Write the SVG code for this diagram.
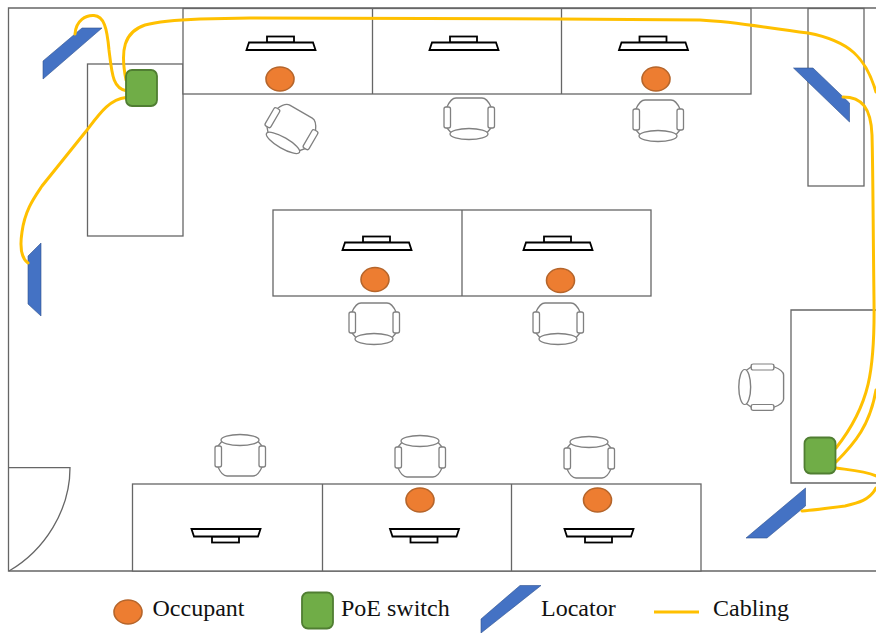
<svg xmlns="http://www.w3.org/2000/svg" width="876" height="633" viewBox="0 0 876 633">
<style>
.w{fill:#fff;stroke:#666;stroke-width:1.3}
.n{fill:none;stroke:#666;stroke-width:1.3}
.ch{fill:#fff;stroke:#808080;stroke-width:1.3}
.mon{fill:#fff;stroke:#000;stroke-width:1.8}
.occ{fill:#ED7D31;stroke:#B5652B;stroke-width:1.6}
.sw{fill:#70AD47;stroke:#507E32;stroke-width:1.8}
.loc{fill:#4472C4;stroke:#2F528F;stroke-width:.6}
.cab{fill:none;stroke:#FFC000;stroke-width:3;stroke-linecap:round}
.t{font-family:"Liberation Serif","Times New Roman",serif;font-size:24px;fill:#111}
</style>
<defs>
<g id="chair">
<path class="ch" d="M-13,-20 H13 Q18,-20 22,-11 V10 L16,17 H-16 L-22,10 V-11 Q-18,-20 -13,-20 Z"/>
<rect class="ch" x="-25" y="-11" width="6.500" height="21" rx="2"/>
<rect class="ch" x="19" y="-11" width="6.500" height="21" rx="2"/>
<ellipse class="ch" cx="0" cy="16" rx="19" ry="5.500"/>
</g>
<g id="monitor">
<rect class="mon" x="-14" y="-6" width="27" height="6"/>
<path class="mon" d="M-34.500,7.500 L-32,0 H32 L34.500,7.500 Z"/>
</g>
</defs>
<rect width="876" height="633" fill="#fff"/>
<g id="room">
<path class="n" d="M876,8 H8.500 V571 H876"/>
<path class="n" d="M9,467.700 H70 C70,510 45,550 9,571"/>
</g>
<g id="desk-left"><rect class="w" x="87.500" y="64" width="95.500" height="172"/></g>
<g id="desks-top"><rect class="w" x="183" y="8.500" width="568" height="85.500"/><path class="n" d="M372.500,8.500 V94 M561.500,8.500 V94"/></g>
<g id="desk-top-right"><rect class="w" x="808" y="8.500" width="56" height="177.500"/></g>
<g id="desks-middle"><rect class="w" x="273" y="210" width="378" height="86"/><path class="n" d="M462,210 V296"/></g>
<g id="desk-right"><path class="w" d="M876,310 H791 V483 H876"/></g>
<g id="desks-bottom"><rect class="w" x="132.500" y="484" width="568.500" height="87"/><path class="n" d="M322.500,484 V571 M511.500,484 V571"/></g>

<g id="chairs">
<use href="#chair" transform="translate(291,129) rotate(30)"/>
<use href="#chair" transform="translate(469,118)"/>
<use href="#chair" transform="translate(658,120)"/>
<use href="#chair" transform="translate(374,323)"/>
<use href="#chair" transform="translate(558,323)"/>
<use href="#chair" transform="translate(240,456) scale(1,-1)"/>
<use href="#chair" transform="translate(420,457) scale(1,-1)"/>
<use href="#chair" transform="translate(589,458) scale(1,-1)"/>
<use href="#chair" transform="translate(762,387) rotate(90) scale(.92,1.08)"/>
</g>
<g id="monitors">
<use href="#monitor" transform="translate(281,42.500)"/>
<use href="#monitor" transform="translate(464,42.500)"/>
<use href="#monitor" transform="translate(653.500,42.500)"/>
<use href="#monitor" transform="translate(377,242.500)"/>
<use href="#monitor" transform="translate(558,242.500)"/>
<use href="#monitor" transform="translate(226,536.500) scale(1,-1)"/>
<use href="#monitor" transform="translate(424.500,536.500) scale(1,-1)"/>
<use href="#monitor" transform="translate(599,536.500) scale(1,-1)"/>
</g>
<g id="occupants">
<ellipse class="occ" cx="280" cy="79" rx="14" ry="12"/>
<ellipse class="occ" cx="656" cy="79" rx="14" ry="12"/>
<ellipse class="occ" cx="375" cy="279.500" rx="14" ry="12"/>
<ellipse class="occ" cx="560.500" cy="280.500" rx="14" ry="12"/>
<ellipse class="occ" cx="420" cy="500" rx="14" ry="12"/>
<ellipse class="occ" cx="597.500" cy="500" rx="14" ry="12"/>
</g>
<g id="locator-1"><polygon class="loc" points="43,61 82,28 102,28 43,79"/></g>
<g id="locator-2"><polygon class="loc" points="28,256 41,243 41,316 28,304"/></g>
<g id="locator-3"><polygon class="loc" points="793.500,68 813,68 849.500,103 849.500,122"/></g>
<g id="locator-4"><polygon class="loc" points="746,538 767,538 805.500,506 805.500,488"/></g>
<g id="connectors">
<path class="cab" d="M75,34 C76,20 86,15 94,15.500 C104,16 107,28 109,50 C112,75 113,89 127,91"/>
<path class="cab" d="M126,80 C120,50 124,32 145,25 C160,21 175,20 200,19 L250,18 L560,19 L700,20 C740,22 765,28 808,33 C850,41 866,58 876,92"/>
<path class="cab" d="M28,263 C21,258 20,245 22,232 C25,210 34,198 42,186 L87,130 C100,113 110,99 126,97.500"/>
<path class="cab" d="M843,97 C862,97 871,108 872,135 C873,170 873,220 874,300 C875,370 870,405 836,448"/>
<path class="cab" d="M836,462 C855,443 870,425 876,390"/>
<path class="cab" d="M836,468 C850,470 865,471 876,476"/>
<path class="cab" d="M876,488 C870,500 858,503 845,506 C830,508 815,510 802,511"/>
</g>
<g id="switch-1"><rect class="sw" x="126" y="70" width="31" height="36" rx="6"/></g>
<g id="switch-2"><rect class="sw" x="804.500" y="437.500" width="31" height="36" rx="6"/></g>
<g id="legend">
<g id="legend-occupant"><ellipse class="occ" cx="128" cy="612" rx="14" ry="12"/><text class="t" x="152.500" y="616">Occupant</text></g>
<g id="legend-switch"><rect class="sw" x="302" y="592.500" width="31" height="36" rx="6"/><text class="t" x="341" y="616">PoE switch</text></g>
<g id="legend-locator"><polygon class="loc" points="481,619 520,585.500 541,585.500 481,633"/><text class="t" x="541" y="616">Locator</text></g>
<g id="legend-cabling"><path d="M654,612 H699" fill="none" stroke="#FFC000" stroke-width="3"/><text class="t" x="713" y="616">Cabling</text></g>
</g>
</svg>
